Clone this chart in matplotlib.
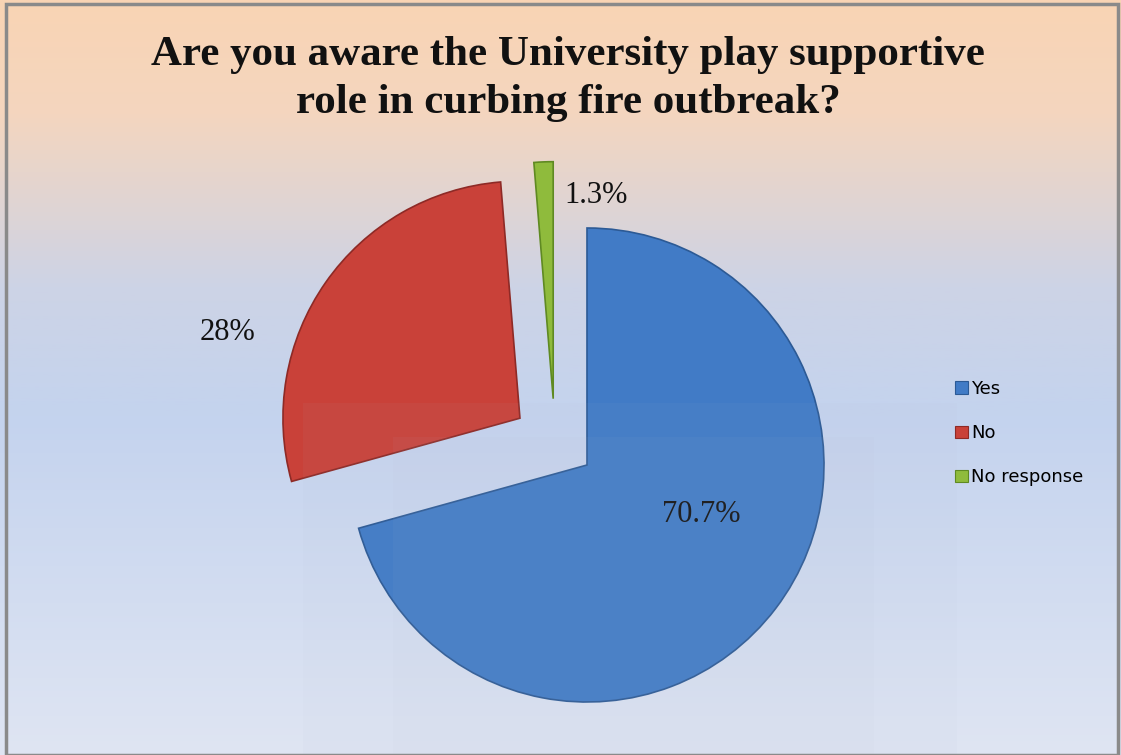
import numpy as np
import matplotlib
matplotlib.use("Agg")
import matplotlib.pyplot as plt
from matplotlib.patches import Patch, Rectangle
from matplotlib.colors import LinearSegmentedColormap

# data
categories = ["Yes", "No", "No response"]
shares = [70.7, 28.0, 1.3]
pct_labels = ["70.7%", "28%", "1.3%"]
colors = ["#417bc6", "#c94139", "#8fbb3c"]
edge_colors = ["#2c5a95", "#8e2a26", "#5f8a22"]

title = "Are you aware the University play supportive\nrole in curbing fire outbreak?"

W, H = 1121, 755
fig = plt.figure(figsize=(W / 100, H / 100), dpi=100)

# background gradient
bg = fig.add_axes([0, 0, 1, 1])
bg.set_axis_off()
cmap = LinearSegmentedColormap.from_list(
    "bg", [(0.0, "#dfe5f3"), (0.45, "#c4d3ee"), (0.62, "#cdd3e6"), (0.85, "#f4d6bf"), (1.0, "#f9d4b4")])
grad = np.linspace(0, 1, 256).reshape(-1, 1)
bg.imshow(grad, aspect="auto", cmap=cmap, origin="lower", extent=[0, 1, 0, 1])
bg.set_xlim(0, 1)
bg.set_ylim(0, 1)

# pie axes: unit radius = 237 px, centre at (587, 465) px from top-left
R = 237.0
cx, cy = 587.0, 465.0
ax = fig.add_axes([0, 0, 1, 1])

wedges, _ = ax.pie(shares, colors=colors, startangle=90, counterclock=False,
                   explode=[0, 0.345, 0.31], radius=1.0, center=(0, 0),
                   wedgeprops=dict(linewidth=1.2))
for w, ec in zip(wedges, edge_colors):
    w.set_edgecolor(ec)
# Excel moved the thin slice a bit to the left of its radial direction
c = wedges[2].center
wedges[2].set_center((c[0] - 0.13, c[1] - 0.03))

ax.set_axis_off()
ax.set_xlim(-cx / R, (W - cx) / R)
ax.set_ylim(-(H - cy) / R, cy / R)
ax.set_aspect("equal")

label_pos = [(0.48, -0.21), (-1.515, 0.557), (0.04, 1.139)]
for txt, (x, y) in zip(pct_labels, label_pos):
    ax.text(x, y, txt, ha="center", va="center", fontsize=22,
            family="Liberation Serif", color="#111111")

# faint watermark boxes
ax.add_patch(Rectangle(((303 - cx) / R, -(H - cy) / R), (957 - 303) / R, (H - 403) / R,
                       facecolor="#b5bccd", alpha=0.05, edgecolor="none", zorder=5))
ax.add_patch(Rectangle(((393 - cx) / R, -(H - cy) / R), (874 - 393) / R, (H - 437) / R,
                       facecolor="#b5bccd", alpha=0.05, edgecolor="none", zorder=5))

fig.text(568 / W, 1 - 79 / H, title, ha="center", va="center", fontsize=31,
         fontweight="bold", family="Liberation Serif", linespacing=1.32, color="#111111")

handles = [Patch(facecolor=col, edgecolor=ec, linewidth=0.8) for col, ec in zip(colors, edge_colors)]
fig.legend(handles, categories, loc="upper left", bbox_to_anchor=(955 / W, 1 - 380 / H),
           frameon=False, fontsize=13, handlelength=0.7, handleheight=0.7,
           handletextpad=0.2, labelspacing=1.45, borderpad=0, borderaxespad=0)

# grey frame
fig.patches.append(Rectangle((6 / W, 0), (W - 9) / W, 1 - 4 / H, transform=fig.transFigure,
                             fill=False, edgecolor="#8a8a8a", linewidth=2.5))

fig.savefig("out.png", dpi=100)
